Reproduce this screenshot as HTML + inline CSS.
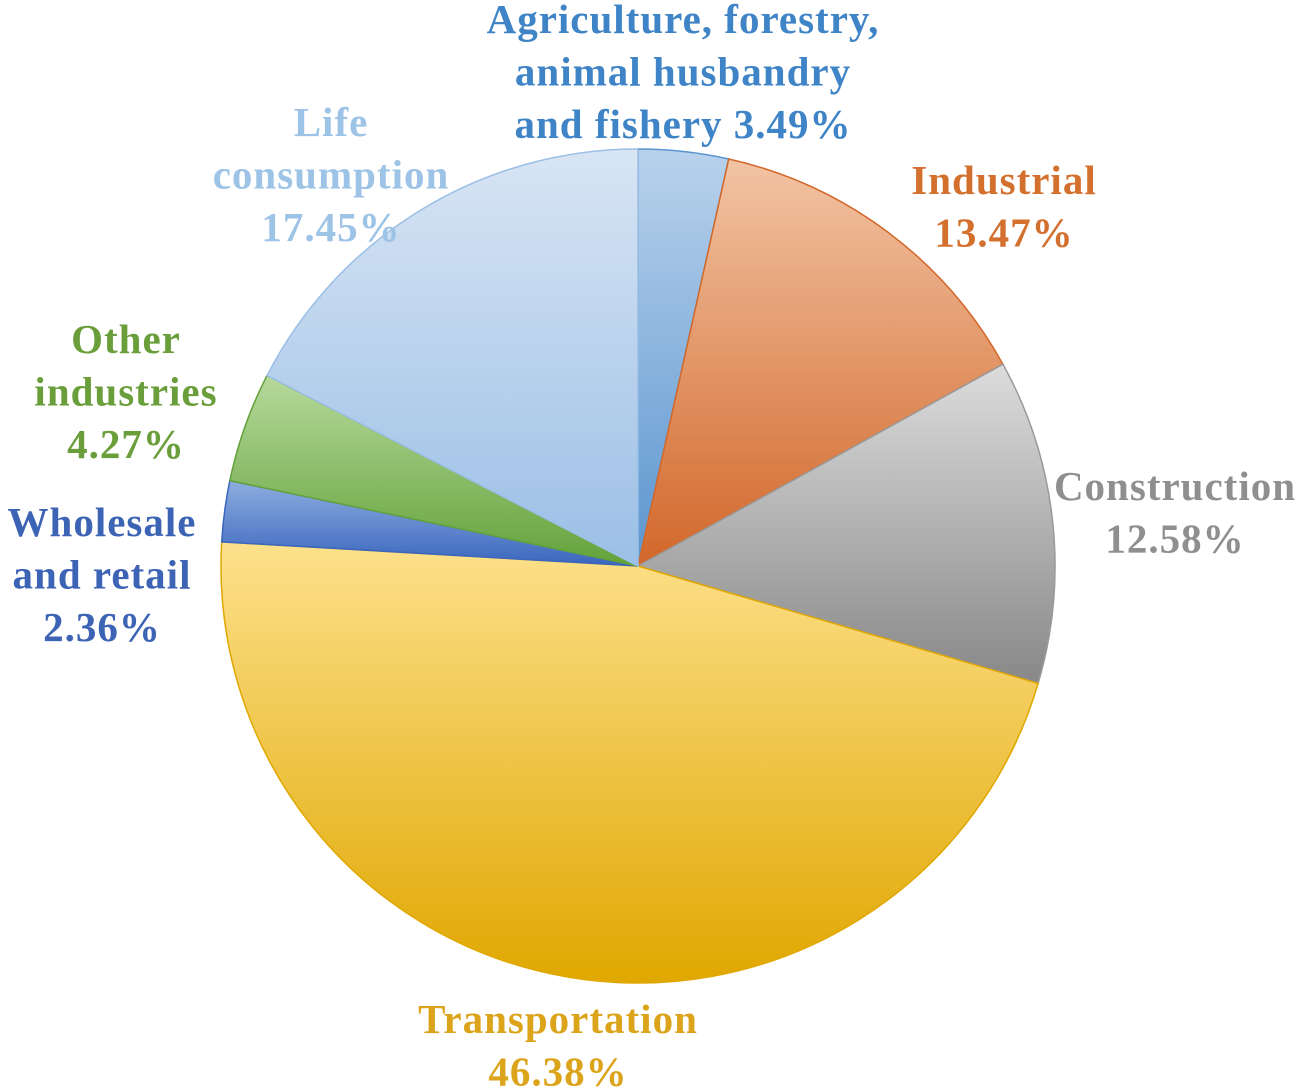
<!DOCTYPE html>
<html><head><meta charset="utf-8"><style>
html,body{margin:0;padding:0;background:#fff;}
svg{display:block;}
text{font-family:"Liberation Serif",serif;font-weight:bold;font-size:41px;letter-spacing:1px;}
</style></head><body>
<svg id="chart" width="1300" height="1090" viewBox="0 0 1300 1090">
<defs>
<linearGradient id="g0" x1="0" y1="0" x2="0" y2="1"><stop offset="0" stop-color="#b9d2ec"/><stop offset="1" stop-color="#5b95cf"/></linearGradient>
<linearGradient id="g1" x1="0" y1="0" x2="0" y2="1"><stop offset="0" stop-color="#f2c4a4"/><stop offset="1" stop-color="#d2672a"/></linearGradient>
<linearGradient id="g2" x1="0" y1="0" x2="0" y2="1"><stop offset="0" stop-color="#dcdcdc"/><stop offset="1" stop-color="#888888"/></linearGradient>
<linearGradient id="g3" x1="0" y1="0" x2="0" y2="1"><stop offset="0" stop-color="#fde18c"/><stop offset="1" stop-color="#e0a700"/></linearGradient>
<linearGradient id="g4" x1="0" y1="0" x2="0" y2="1"><stop offset="0" stop-color="#8eaee0"/><stop offset="1" stop-color="#3a66bd"/></linearGradient>
<linearGradient id="g5" x1="0" y1="0" x2="0" y2="1"><stop offset="0" stop-color="#b7d99c"/><stop offset="1" stop-color="#63a23a"/></linearGradient>
<linearGradient id="g6" x1="0" y1="0" x2="0" y2="1"><stop offset="0" stop-color="#d8e5f4"/><stop offset="1" stop-color="#9bbfe6"/></linearGradient>
</defs>
<g id="slices"></g>
<g id="labels"></g>
</svg>
<script>
const categories = ["Agriculture, forestry, animal husbandry and fishery","Industrial","Construction","Transportation","Wholesale and retail","Other industries","Life consumption"];
const values = [3.49, 13.47, 12.58, 46.38, 2.36, 4.27, 17.45];
const labelLines = [
  ["Agriculture, forestry,","animal husbandry","and fishery 3.49%"],
  ["Industrial","13.47%"],
  ["Construction","12.58%"],
  ["Transportation","46.38%"],
  ["Wholesale","and retail","2.36%"],
  ["Other","industries","4.27%"],
  ["Life","consumption","17.45%"]
];
const strokeColors = ["#5b95cf","#d2672a","#999999","#e0a700","#3a66bd","#63a23a","#9bbfe6"];
const textColors = ["#3f84c6","#d3702e","#8f8f8f","#dca41a","#3d63b5","#6a9e3a","#9dc3e6"];
const labelPos = [[683,20],[1004,181],[1175,487],[558,1020],[102,523],[126,340],[331,123]];

const NS="http://www.w3.org/2000/svg";
const cx=638, cy=566, r=417;
const total=values.reduce((a,b)=>a+b,0);
function angle(v){return v/total*2*Math.PI;}
function pt(a){return [cx+r*Math.sin(a), cy-r*Math.cos(a)];}
let acc=0;
const gS=document.getElementById('slices'), gL=document.getElementById('labels');
values.forEach((v,i)=>{
  const a0=angle(acc), a1=angle(acc+v); acc+=v;
  const p0=pt(a0), p1=pt(a1);
  const large=(a1-a0)>Math.PI?1:0;
  const p=document.createElementNS(NS,'path');
  p.setAttribute('d',`M${cx},${cy} L${p0[0]},${p0[1]} A${r},${r} 0 ${large} 1 ${p1[0]},${p1[1]} Z`);
  p.setAttribute('fill',`url(#g${i})`);
  p.setAttribute('stroke',strokeColors[i]);
  p.setAttribute('stroke-width','1.5');
  
  
  gS.appendChild(p);
  const t=document.createElementNS(NS,'text');
  t.setAttribute('x',labelPos[i][0]);
  t.setAttribute('text-anchor','middle');
  t.setAttribute('fill',textColors[i]);
  
  
  labelLines[i].forEach((ln,j)=>{
    const s=document.createElementNS(NS,'tspan');
    s.setAttribute('x',labelPos[i][0]);
    s.setAttribute('y',labelPos[i][1]+j*52.5+13);
    s.textContent=ln;
    t.appendChild(s);
  });
  gL.appendChild(t);
});
</script>
</body></html>
